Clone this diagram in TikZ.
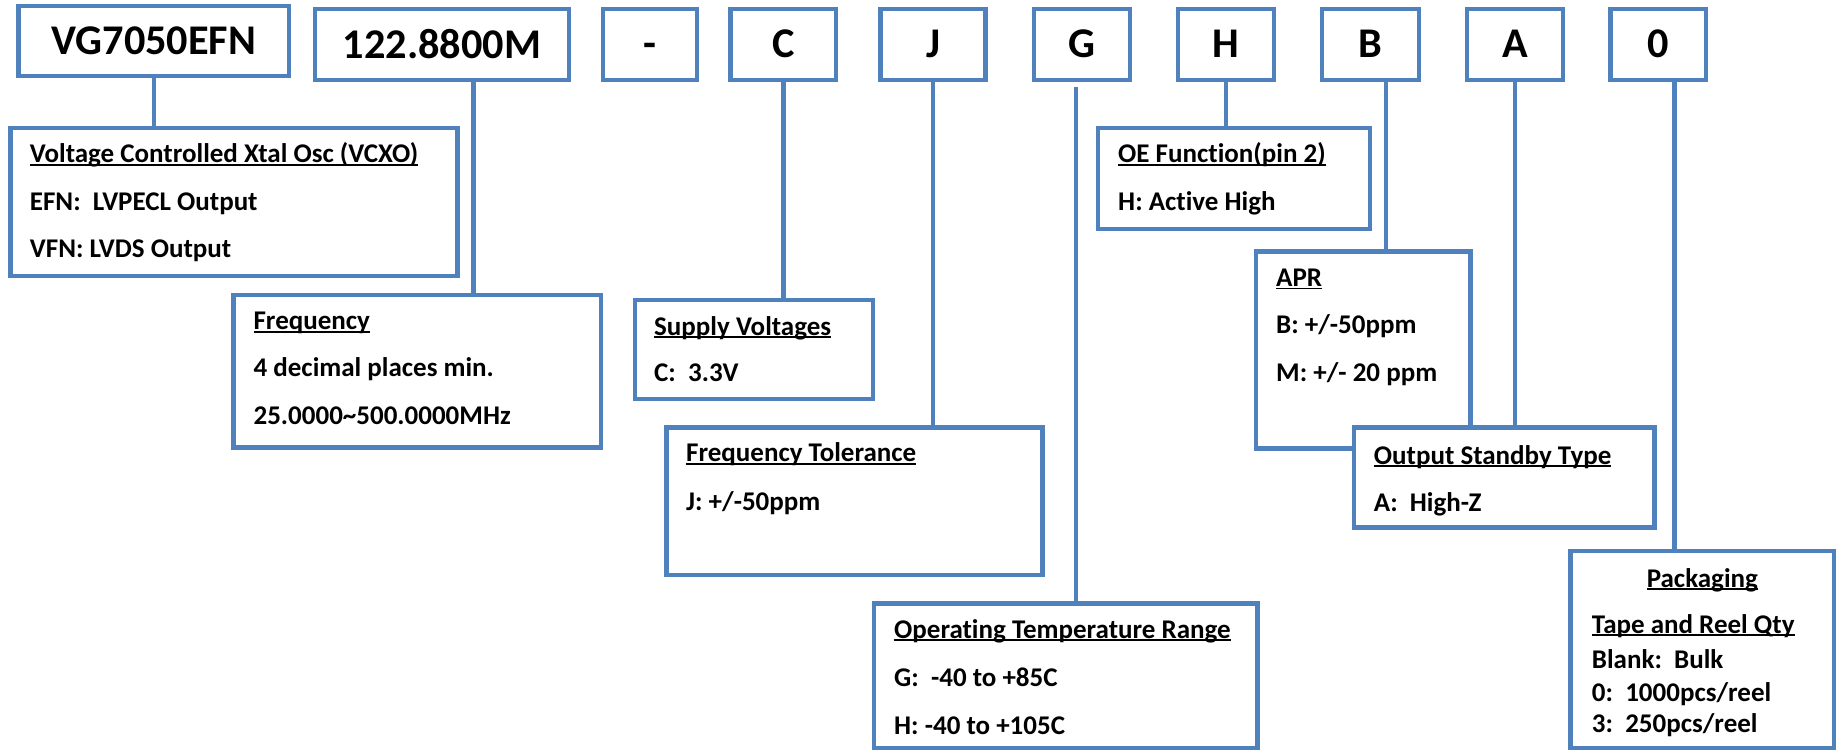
\documentclass[tikz,border=0pt]{standalone}
\usepackage{fontspec}
\setmainfont{Carlito}[Ligatures={TeX,NoCommon}]
\definecolor{obl}{RGB}{79,129,189}
\newcommand\ulx[1]{\setbox0\hbox{#1}\rlap{\rule[-2.8pt]{\wd0}{1.5pt}}\box0}
\tikzset{
  box/.style={draw=obl, line width=4.5pt, fill=white, inner sep=0pt, outer sep=0pt, rectangle},
  link/.style={draw=obl, line width=4.5pt},
  big/.style={font=\fontsize{42.3}{42.3}\selectfont\bfseries, inner sep=0pt, anchor=base},
  txt/.style={font=\fontsize{27}{27}\selectfont\bfseries, inner sep=0pt, anchor=base west},
  txtc/.style={txt, anchor=base},
}
\begin{document}
\begin{tikzpicture}[x=1pt,y=-1pt]
\useasboundingbox[fill=white] (0,0) rectangle (1839,751);
% top row
\node[box, minimum width=270.4pt, minimum height=70pt] (vg) at (153.8,41) {};
\node[box, minimum width=254pt, minimum height=71pt] (m) at (442,44.5) {};
\node[box, minimum width=94pt, minimum height=71pt] (dash) at (650,44.5) {};
\node[box, minimum width=105.5pt, minimum height=71pt] (c) at (783.25,44.5) {};
\node[box, minimum width=104.8pt, minimum height=71pt] (j) at (933.1,44.5) {};
\node[box, minimum width=96pt, minimum height=71pt] (g) at (1082,44.5) {};
\node[box, minimum width=96pt, minimum height=71pt] (h) at (1226,44.5) {};
\node[box, minimum width=97pt, minimum height=71pt] (b) at (1370.5,44.5) {};
\node[box, minimum width=96pt, minimum height=71pt] (a) at (1515,44.5) {};
\node[box, minimum width=95.5pt, minimum height=71pt] (z) at (1658.25,44.5) {};
\node[big] (tvg) at (153.8,55) {VG7050EFN};
\node[big] (tm) at (442,59) {122.8800M};
\node[big] (tdash) at (650,58) {-};
\node[big] (tc) at (783.25,58) {C};
\node[big] (tj) at (933.1,58) {J};
\node[big] (tg) at (1082,58) {G};
\node[big] (th) at (1226,58) {H};
\node[big] (tb) at (1370.5,58) {B};
\node[big] (ta) at (1515,58) {A};
\node[big] (tz) at (1658.25,58) {0};
% lower boxes
\node[box, minimum width=446.8pt, minimum height=148pt] (vcxo) at (234.1,202) {};
\node[box, minimum width=367.4pt, minimum height=152.7pt] (freq) at (417.3,371.35) {};
\node[box, minimum width=238pt, minimum height=99pt] (sup) at (754,349.5) {};
\node[box, minimum width=376pt, minimum height=147.3pt] (tol) at (854.5,501.35) {};
\node[box, minimum width=383.7pt, minimum height=144.7pt] (temp) at (1065.85,675.65) {};
\node[box, minimum width=272pt, minimum height=101pt] (oe) at (1234,178.5) {};
\node[box, minimum width=214.3pt, minimum height=196.6pt] (apr) at (1363.15,350) {};
\node[box, minimum width=300.7pt, minimum height=99.8pt] (osb) at (1504.15,477.6) {};
\node[box, minimum width=263.3pt, minimum height=197pt] (pkg) at (1702.35,649.5) {};
% connectors
\coordinate (mo) at ([xshift=31.7pt]m.south);
\coordinate (go) at ([xshift=-6pt,yshift=-7pt]g.south);
\coordinate (bo) at ([xshift=15.5pt]b.south);
\coordinate (zo) at ([xshift=16pt]z.south);
\draw[link] (vg.south) -- (vg.south |- vcxo.north);
\draw[link] (mo) -- (mo |- freq.north);
\draw[link] (c.south) -- (c.south |- sup.north);
\draw[link] (j.south) -- (j.south |- tol.north);
\draw[link] (go) -- (go |- temp.north);
\draw[link] (h.south) -- (h.south |- oe.north);
\draw[link] (bo) -- (bo |- apr.north);
\draw[link] (a.south) -- (a.south |- osb.north);
\draw[link] (zo) -- (zo |- pkg.north);
% texts
\node[txt] (v1) at (29.7,163) {\ulx{Voltage Controlled Xtal Osc (VCXO)}};
\node[txt] (v2) at (29.7,211) {EFN:\ \ LVPECL Output};
\node[txt] (v3) at (29.7,258) {VFN: LVDS Output};
\node[txt] (f1) at (253.4,330) {\ulx{Frequency}};
\node[txt] (f2) at (253.4,376.7) {4 decimal places min.};
\node[txt] (f3) at (253.4,424) {25.0000\textasciitilde500.0000MHz};
\node[txt] (s1) at (654,335) {\ulx{Supply Voltages}};
\node[txt] (s2) at (654,381.7) {C:\ \ 3.3V};
\node[txt] (l1) at (686,461.7) {\ulx{Frequency Tolerance}};
\node[txt] (l2) at (686,510) {J: +/-50ppm};
\node[txt] (o1) at (894,638) {\ulx{Operating Temperature Range}};
\node[txt] (o2) at (894,686) {G:\ \ -40 to +85C};
\node[txt] (o3) at (894,734) {H: -40 to +105C};
\node[txt] (e1) at (1118,163) {\ulx{OE Function(pin 2)}};
\node[txt] (e2) at (1118,211) {H: Active High};
\node[txt] (p1) at (1276,286.7) {\ulx{APR}};
\node[txt] (p2) at (1276,334) {B: +/-50ppm};
\node[txt] (p3) at (1276,381.7) {M: +/- 20 ppm};
\node[txt] (q1) at (1373.7,464) {\ulx{Output Standby Type}};
\node[txt] (q2) at (1373.7,511) {A:\ \ High-Z};
\node[txtc] (k1) at (1702.35,587) {\ulx{Packaging}};
\node[txt] (k2) at (1591.7,633) {\ulx{Tape and Reel Qty}};
\node[txt] (k3) at (1591.7,668) {Blank:\ \ Bulk};
\node[txt] (k4) at (1591.7,701.7) {0:\ \ 1000pcs/reel};
\node[txt] (k5) at (1591.7,732) {3:\ \ 250pcs/reel};
\end{tikzpicture}
\end{document}
